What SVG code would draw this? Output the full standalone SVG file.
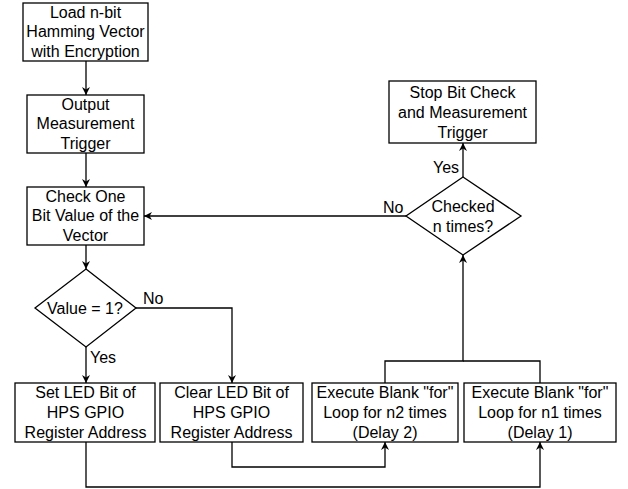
<svg xmlns="http://www.w3.org/2000/svg" width="628" height="489" viewBox="0 0 628 489">
<style>
.box{fill:#fff;stroke:#000;stroke-width:1.3}
.t{font-family:"Liberation Sans",Arial,sans-serif;font-size:16px;fill:#000;text-anchor:middle}
.l{font-family:"Liberation Sans",Arial,sans-serif;font-size:16px;fill:#000}
.c{fill:none;stroke:#000;stroke-width:1.3}
</style>
<defs>
<marker id="a" viewBox="0 0 10 10" refX="10" refY="5" markerWidth="8" markerHeight="8" markerUnits="userSpaceOnUse" orient="auto">
<path d="M0,0 L10,5 L0,10 L3,5 z" fill="#000"/>
</marker>
</defs>
<g id="connectors">
<path class="c" d="M86,61 V95" marker-end="url(#a)"/>
<path class="c" d="M86,153 V187" marker-end="url(#a)"/>
<path class="c" d="M86,245 V269" marker-end="url(#a)"/>
<path class="c" d="M86,347 V383" marker-end="url(#a)"/>
<path class="c" d="M136,308 H232 V383" marker-end="url(#a)"/>
<path class="c" d="M86,442 V487 H540 V442" marker-end="url(#a)"/>
<path class="c" d="M232,442 V467 H385 V442" marker-end="url(#a)"/>
<path class="c" d="M385,383 V361 H463 V255" marker-end="url(#a)"/>
<path class="c" d="M540,383 V361 H463"/>
<path class="c" d="M463,177 V143" marker-end="url(#a)"/>
<path class="c" d="M406,216 H144" marker-end="url(#a)"/>
<text class="l" x="90" y="363">Yes</text>
<text class="l" x="143" y="304">No</text>
<text class="l" x="433" y="173">Yes</text>
<text class="l" x="383" y="213">No</text>
</g>
<g id="load">
<rect class="box" x="23" y="3" width="125" height="58"/>
<text class="t" x="85.5" y="17.5">Load n-bit</text>
<text class="t" x="85.5" y="37">Hamming Vector</text>
<text class="t" x="85.5" y="57">with Encryption</text>
</g>
<g id="output">
<rect class="box" x="27" y="95" width="117" height="58"/>
<text class="t" x="85.5" y="109.5">Output</text>
<text class="t" x="85.5" y="129">Measurement</text>
<text class="t" x="85.5" y="148.5">Trigger</text>
</g>
<g id="check">
<rect class="box" x="27" y="187" width="117" height="58"/>
<text class="t" x="85.5" y="201.5">Check One</text>
<text class="t" x="85.5" y="221">Bit Value of the</text>
<text class="t" x="85.5" y="240.5">Vector</text>
</g>
<g id="value">
<polygon class="box" points="86,269 136,308 86,347 35,308"/>
<text class="t" x="85" y="313.5">Value = 1?</text>
</g>
<g id="set">
<rect class="box" x="15" y="383" width="140" height="59"/>
<text class="t" x="85.5" y="398">Set LED Bit of</text>
<text class="t" x="85.5" y="418">HPS GPIO</text>
<text class="t" x="85.5" y="437.5">Register Address</text>
</g>
<g id="clear">
<rect class="box" x="160" y="383" width="143" height="59"/>
<text class="t" x="231.5" y="398">Clear LED Bit of</text>
<text class="t" x="231.5" y="418">HPS GPIO</text>
<text class="t" x="231.5" y="437.5">Register Address</text>
</g>
<g id="delay2">
<rect class="box" x="312" y="383" width="146" height="59"/>
<text class="t" x="385" y="398">Execute Blank "for"</text>
<text class="t" x="385" y="418">Loop for n2 times</text>
<text class="t" x="385" y="437.5">(Delay 2)</text>
</g>
<g id="delay1">
<rect class="box" x="464" y="383" width="152" height="59"/>
<text class="t" x="540" y="398">Execute Blank "for"</text>
<text class="t" x="540" y="418">Loop for n1 times</text>
<text class="t" x="540" y="437.5">(Delay 1)</text>
</g>
<g id="checked">
<polygon class="box" points="463,177 521,216 463,255 406,216"/>
<text class="t" x="463" y="211.5">Checked</text>
<text class="t" x="463" y="231.5">n times?</text>
</g>
<g id="stop">
<rect class="box" x="389" y="81" width="147" height="62"/>
<text class="t" x="462.5" y="97.5">Stop Bit Check</text>
<text class="t" x="462.5" y="117.5">and Measurement</text>
<text class="t" x="462.5" y="137.5">Trigger</text>
</g>
</svg>
